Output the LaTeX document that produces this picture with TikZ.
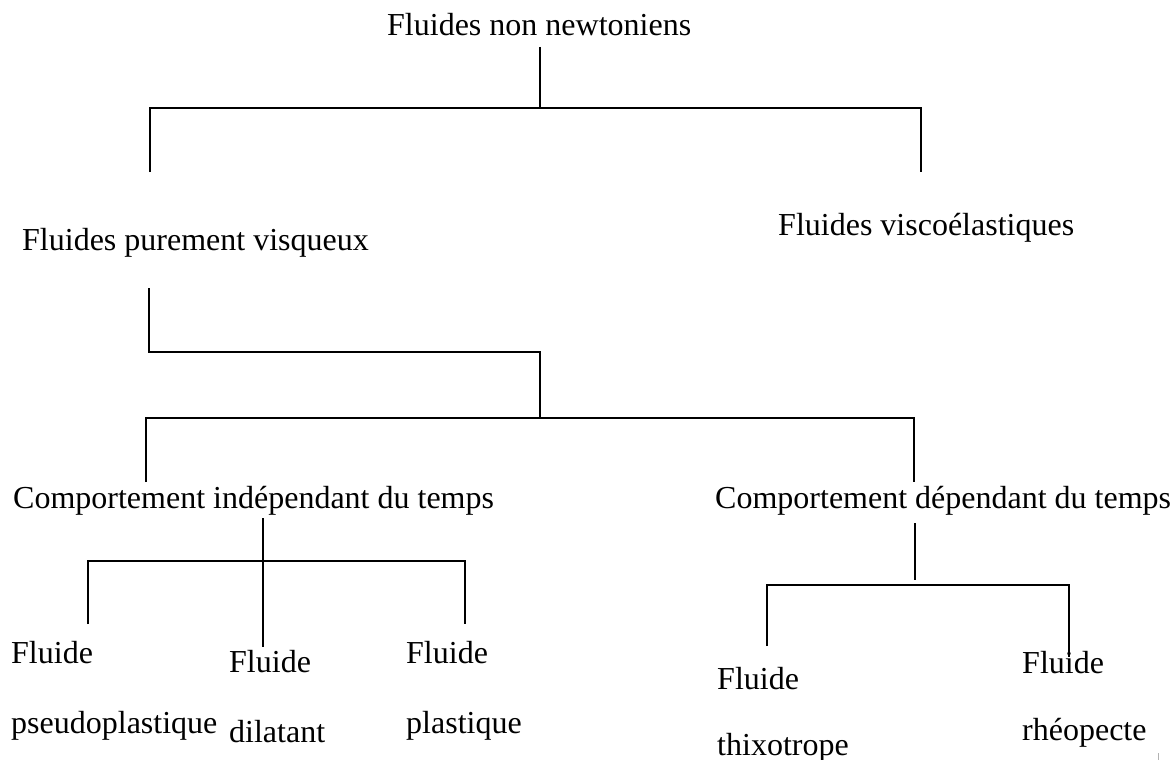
\documentclass[tikz,border=0pt]{standalone}
\usepackage{fontspec}
\setmainfont{Liberation Serif}
\usepackage{tikz}
\usetikzlibrary{positioning}
\tikzset{
  lbl/.style={anchor=base west, inner sep=0pt, font=\fontsize{32}{36}\selectfont},
  leaf/.style={lbl, align=left},
  br/.style={draw=black, line width=1.6pt},
}

\begin{document}
\begin{tikzpicture}[x=1pt,y=1pt]
\useasboundingbox[fill=white] (0,0) rectangle (1175,-760);
% labels
\node[lbl] (nn) at (387,-36) {Fluides non newtoniens};
\node[lbl] (pv) at (22,-250) {Fluides purement visqueux};
\node[lbl] (ve) at (778,-235) {Fluides viscoélastiques};
\node[lbl] (ci) at (13,-508) {Comportement indépendant du temps};
\node[lbl] (cd) at (715,-508) {Comportement dépendant du temps};
% leaves (base = last line)
\node[leaf] (ps) at (11,-733) {Fluide\\[34pt]pseudoplastique};
\node[leaf] (di) at (229,-742) {Fluide\\[34pt]dilatant};
\node[leaf] (pl) at (406,-733) {Fluide\\[34pt]plastique};
\node[leaf] (th) at (717,-755) {Fluide\\[30pt]thixotrope};
\node[leaf] (rh) at (1022,-740) {Fluide\\[31pt]rhéopecte};
% junctions
\coordinate (nn-s) at (540,-47);
\coordinate (nn-j) at (540,-108);
\coordinate (pv-n) at (150,-172);
\coordinate (ve-n) at (921,-172);
\coordinate (pv-s) at (149,-288);
\coordinate (pv-j) at (540,-352);
\coordinate (cx-j) at (540,-418);
\coordinate (ci-n) at (146,-482);
\coordinate (cd-n) at (914,-482);
\coordinate (ci-s) at (263,-518);
\coordinate (ci-j) at (263,-561);
\coordinate (di-n) at (263,-647);
\coordinate (ps-n) at (88,-624);
\coordinate (pl-n) at (465,-624);
\coordinate (cd-s) at (915,-523);
\coordinate (cd-e) at (915,-580);
\coordinate (cd-j) at (915,-585);
\coordinate (th-n) at (767,-646);
\coordinate (rh-n) at (1069,-657);
% brackets
\draw[br] (nn-s) -- (nn-j);
\draw[br] (pv-n) -- (pv-n |- nn-j) -- (ve-n |- nn-j) -- (ve-n);
\draw[br] (pv-s) -- (pv-s |- pv-j) -- (pv-j) -- (cx-j);
\draw[br] (ci-n) -- (ci-n |- cx-j) -- (cd-n |- cx-j) -- (cd-n);
\draw[br] (ci-s) -- (di-n);
\draw[br] (ps-n) -- (ps-n |- ci-j) -- (pl-n |- ci-j) -- (pl-n);
\draw[br] (cd-s) -- (cd-e);
\draw[br] (th-n) -- (th-n |- cd-j) -- (rh-n |- cd-j) -- (rh-n);
\draw[gray!60, line width=1pt] (1158,-753) -- (1158,-760);
\end{tikzpicture}
\end{document}
